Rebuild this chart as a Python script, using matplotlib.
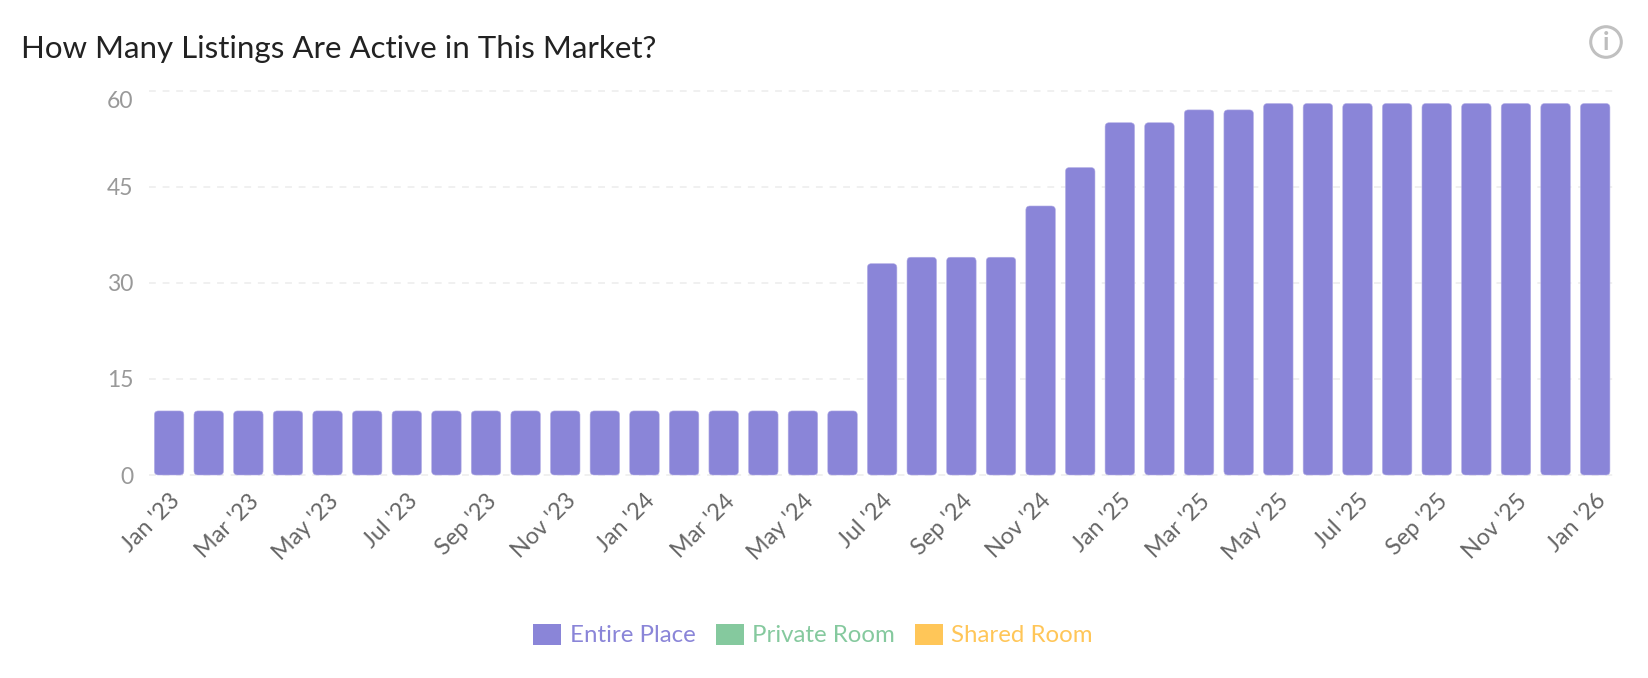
import matplotlib
matplotlib.use("Agg")
import matplotlib.pyplot as plt
from matplotlib.patches import FancyBboxPatch, Patch, Circle
from matplotlib.transforms import IdentityTransform, ScaledTranslation

plt.rcParams['font.family'] = ['Lato', 'DejaVu Sans']

W, H = 1648, 678
months = ["Jan '23","Feb '23","Mar '23","Apr '23","May '23","Jun '23","Jul '23","Aug '23","Sep '23","Oct '23","Nov '23","Dec '23",
          "Jan '24","Feb '24","Mar '24","Apr '24","May '24","Jun '24","Jul '24","Aug '24","Sep '24","Oct '24","Nov '24","Dec '24",
          "Jan '25","Feb '25","Mar '25","Apr '25","May '25","Jun '25","Jul '25","Aug '25","Sep '25","Oct '25","Nov '25","Dec '25","Jan '26"]
entire_place = [10]*18 + [33,34,34,34,42,48,55,55,57,57,58,58,58,58,58,58,58,58,58]
y_ticks = [0,15,30,45,60]
legend_labels = ["Entire Place","Private Room","Shared Room"]
legend_colors = ["#8A85D8","#85C99E","#FFC658"]

fig = plt.figure(figsize=(W/100, H/100), dpi=100, facecolor='white')
L, R, T, B = 149.3, 1615, 90.7, 475
ax = fig.add_axes([L/W, 1-B/H, (R-L)/W, (B-T)/H])
ax.set_xlim(-0.5, len(months)-0.5)
ax.set_ylim(0, 60)

px_x = (R-L)/len(months)
px_y = (B-T)/60
bars = ax.bar(range(len(months)), entire_place, width=29.5/px_x, color=legend_colors[0], linewidth=0)
for r in bars:
    x, y, w, h = r.get_x(), r.get_y(), r.get_width(), r.get_height()
    r.set_visible(False)
    ax.add_patch(FancyBboxPatch((x, y), w, h,
                                boxstyle=f"round,pad=0,rounding_size={4/px_x}",
                                mutation_aspect=px_x/px_y,
                                facecolor=legend_colors[0], edgecolor='#B4AFE6',
                                linewidth=0.4, zorder=3, clip_on=False))

for s in ax.spines.values():
    s.set_visible(False)
ax.set_axisbelow(True)
ax.grid(axis='y', color='#F0F0F0', linestyle=(0, (3.5, 3.5)), linewidth=1.4, clip_on=False)
ax.set_yticks(y_ticks)
ax.set_yticklabels([str(v) for v in y_ticks], fontsize=16.5, color='#999999', va='center')
ax.tick_params(axis='y', length=0, pad=11.5)
ylabels = ax.get_yticklabels()
ylabels[-1].set_va('top')
down = ScaledTranslation(0, -2/100, fig.dpi_scale_trans)
for t in ylabels[:-1]:
    t.set_transform(t.get_transform() + down)
ax.set_xticks(range(0, len(months), 2))
ax.set_xticklabels(months[::2], rotation=45, ha='right', rotation_mode='anchor',
                   fontsize=16.8, color='#666666')
ax.tick_params(axis='x', length=0, pad=11)

fig.text(21/W, 1-58/H, "How Many Listings Are Active in This Market?", fontsize=22.5,
         color='#222222', ha='left', va='baseline')

handles = [Patch(facecolor=c, edgecolor='none') for c in legend_colors]
leg = fig.legend(handles, legend_labels, loc='center', bbox_to_anchor=(813/W, 1-635/H),
                 ncol=3, frameon=False, fontsize=17.3, handlelength=1.165, handleheight=1.0,
                 handletextpad=0.35, columnspacing=0.83, borderpad=0, borderaxespad=0)
for t, c in zip(leg.get_texts(), legend_colors):
    t.set_color(c)

# info icon, top right
trans = IdentityTransform()
fig.add_artist(Circle((1606, H-42), 15.3, transform=trans, facecolor='none',
                      edgecolor='#C0C0C0', linewidth=2.2))
fig.text(1606/W, 1-42/H, "i", fontsize=18, fontweight='bold', color='#BDBDBD', ha='center', va='center')

fig.savefig("out.png", dpi=100, facecolor='white')
